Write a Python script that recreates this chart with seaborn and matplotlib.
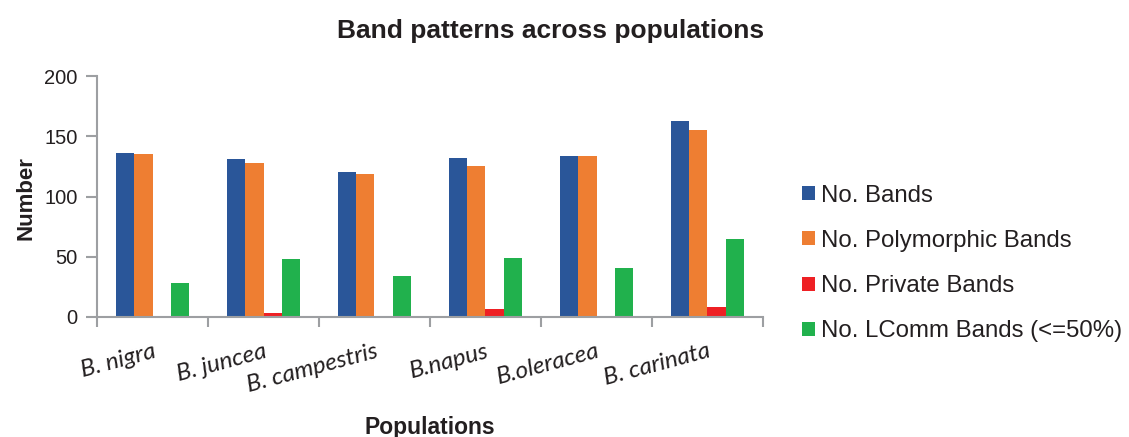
import matplotlib
matplotlib.use("Agg")
import matplotlib.pyplot as plt
import seaborn as sns
import pandas as pd

# Band counts per Brassica population
populations = ["B. nigra", "B. juncea", "B. campestris", "B.napus", "B.oleracea", "B. carinata"]
series_names = ["No. Bands", "No. Polymorphic Bands", "No. Private Bands", "No. LComm Bands (<=50%)"]
no_bands = [136, 131, 120, 132, 134, 163]
no_polymorphic = [135, 128, 119, 125, 134, 155]
no_private = [1, 3, 1, 7, 0, 8]
no_lcomm = [28, 48, 34, 49, 41, 65]
y_ticks = [0, 50, 100, 150, 200]

colors = ["#2A5699", "#EE7E32", "#EE2024", "#21B14D"]

rows = []
for name, vals in zip(series_names, [no_bands, no_polymorphic, no_private, no_lcomm]):
    for pop, v in zip(populations, vals):
        rows.append({"Population": pop, "Series": name, "Number": v})
df = pd.DataFrame(rows)

sns.set_theme(style="white")
plt.rcParams["font.family"] = ["Liberation Sans", "DejaVu Sans"]

W, H = 1129, 437
fig = plt.figure(figsize=(W / 100, H / 100), dpi=100)
ax = fig.add_axes([97 / W, 1 - 317 / H, (763 - 97) / W, (317 - 76) / H])

sns.barplot(data=df, x="Population", y="Number", hue="Series",
            order=populations, hue_order=series_names, palette=colors,
            width=0.66, linewidth=0, errorbar=None, ax=ax, saturation=1)

ax.set_ylim(0, 200)
ax.set_xlim(-0.5, len(populations) - 0.5)
ax.set_yticks(y_ticks)
ax.set_yticklabels([str(t) for t in y_ticks], fontsize=14.5, color="#231F20")

# category labels at centers, tick marks at group boundaries
ax.set_xticks(range(len(populations)))
ax.set_xticklabels(populations, rotation=15, ha="right", va="top",
                   rotation_mode="anchor", family="Lato", style="italic",
                   fontsize=17.5, color="#231F20")
ax.set_xticks([i - 0.5 for i in range(len(populations) + 1)], minor=True)
ax.tick_params(axis="x", which="major", length=0, pad=17)
ax.tick_params(axis="x", which="minor", length=7, width=1.5, color="#9D9FA2", direction="out", bottom=True)
ax.tick_params(axis="y", length=8, width=1.5, color="#9D9FA2", direction="out", left=True, pad=6)

for side in ["top", "right"]:
    ax.spines[side].set_visible(False)
for side in ["left", "bottom"]:
    ax.spines[side].set_color("#9D9FA2")
    ax.spines[side].set_linewidth(1.5)

ax.set_ylabel("Number", fontsize=16, fontweight="bold", color="#231F20")
ax.yaxis.set_label_coords(-0.091, 0.494)
ax.set_xlabel("Populations", fontsize=16.5, fontweight="bold", color="#231F20")
ax.xaxis.set_label_coords(0.5, -0.41)
ax.xaxis.label.set_va("top")

fig.text(551 / W, 1 - 37.7 / H, "Band patterns across populations", ha="center",
         va="baseline", fontsize=19, fontweight="bold", color="#231F20")

handles, labels = ax.get_legend_handles_labels()
ax.get_legend().remove()
fig.legend(handles, labels, loc="center left", bbox_to_anchor=(790 / W, 1 - 263.5 / H),
           frameon=False, fontsize=17.3, borderpad=0, handlelength=0.52, handleheight=0.52,
           handletextpad=0.25, labelspacing=0.96, labelcolor="#231F20")

fig.savefig("out.png", dpi=100, facecolor="white")
